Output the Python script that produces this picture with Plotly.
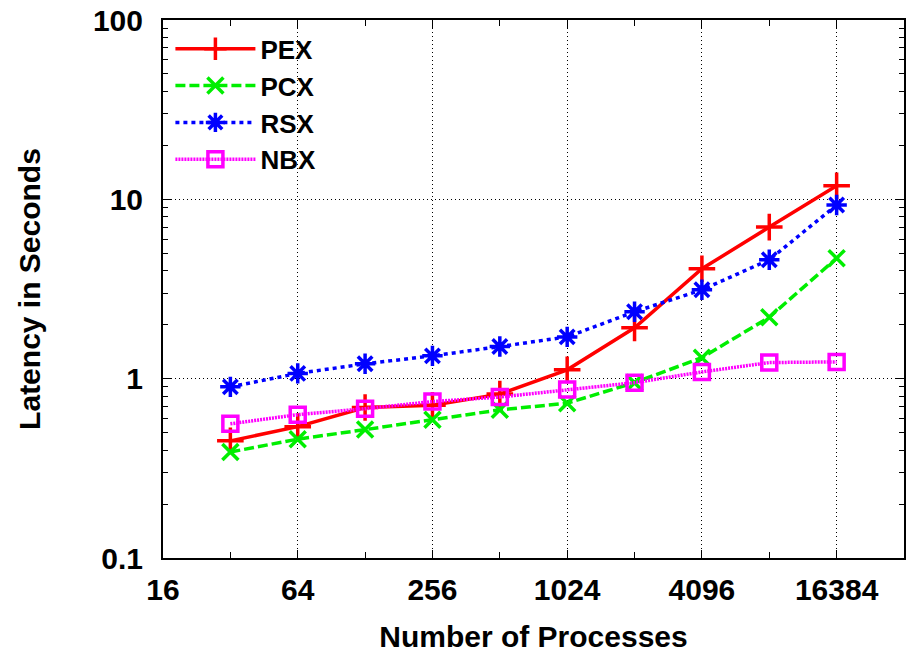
import plotly.graph_objects as go

processes = [32, 64, 128, 256, 512, 1024, 2048, 4096, 8192, 16384]
pex = [0.45, 0.54, 0.69, 0.71, 0.82, 1.12, 1.92, 4.1, 7.0, 11.9]
pcx = [0.39, 0.46, 0.52, 0.59, 0.67, 0.73, 0.95, 1.31, 2.2, 4.7]
rsx = [0.90, 1.07, 1.21, 1.34, 1.51, 1.71, 2.36, 3.13, 4.6, 9.3]
nbx = [0.56, 0.63, 0.68, 0.745, 0.79, 0.87, 0.95, 1.09, 1.23, 1.24]

x_ticks = [16, 64, 256, 1024, 4096, 16384]
x_minor = [32, 128, 512, 2048, 8192]
y_ticks = [0.1, 1, 10, 100]
y_ticktext = ["0.1", "1", "10", "100"]
y_minor = [m * d for d in (0.1, 1, 10) for m in range(2, 10)]

series = [
    ("PEX", pex, "#ff0000", "solid", "cross-thin", 19),
    ("PCX", pcx, "#00ee00", "10px,4px", "x-thin", 16),
    ("RSX", rsx, "#0000ff", "4px,4px", "asterisk", 17),
    ("NBX", nbx, "#ff00ff", "2px,1px", "square-open", 15),
]

fig = go.Figure()
for name, vals, color, dash, sym, size in series:
    fig.add_trace(go.Scatter(
        x=processes, y=vals, name=name, mode="lines+markers",
        line=dict(color=color, width=3.5, dash=dash),
        marker=dict(symbol=sym, size=size, color=color,
                    line=dict(color=color, width=3.5)),
    ))

font_family = "Liberation Sans, Arial, sans-serif"
fig.update_layout(
    width=906, height=653,
    margin=dict(l=163, r=2, t=20, b=95, autoexpand=False),
    paper_bgcolor="white", plot_bgcolor="white",
    font=dict(family=font_family, size=30, color="black", weight="bold"),
    showlegend=True,
    legend=dict(x=0.01, y=0.99, xanchor="left", yanchor="top",
                bgcolor="rgba(0,0,0,0)", font=dict(size=26, weight="bold"),
                itemwidth=80, tracegroupgap=0),
)
fig.update_xaxes(
    type="log", range=[1.20412, 4.51545], automargin=False,
    tickvals=x_ticks, ticktext=[str(v) for v in x_ticks],
    ticks="inside", ticklen=8, tickwidth=1, tickcolor="black",
    showline=True, linecolor="black", linewidth=2, mirror="allticks",
    showgrid=True, gridcolor="black", griddash="1px,3px", gridwidth=1,
    minor=dict(tickvals=x_minor, ticks="inside", ticklen=6, tickcolor="black", showgrid=False),
    ticklabelstandoff=4, ticklabeloverflow="allow", zeroline=False,
    title=dict(text="Number of Processes", font=dict(size=30, weight="bold"), standoff=25),
)
fig.update_yaxes(
    type="log", range=[-1, 2], automargin=False,
    tickvals=y_ticks, ticktext=y_ticktext,
    ticks="inside", ticklen=8, tickwidth=1, tickcolor="black",
    showline=True, linecolor="black", linewidth=2, mirror="allticks",
    showgrid=True, gridcolor="black", griddash="1px,3px", gridwidth=1,
    minor=dict(tickvals=y_minor, ticks="inside", ticklen=5, tickcolor="black", showgrid=False),
    ticklabelstandoff=12, ticklabeloverflow="allow", zeroline=False,
    title=dict(text="Latency in Seconds", font=dict(size=30, weight="bold"), standoff=43),
)

fig.write_html("out.html", config={"displayModeBar": False},
               post_script="document.body.style.margin='0';")
